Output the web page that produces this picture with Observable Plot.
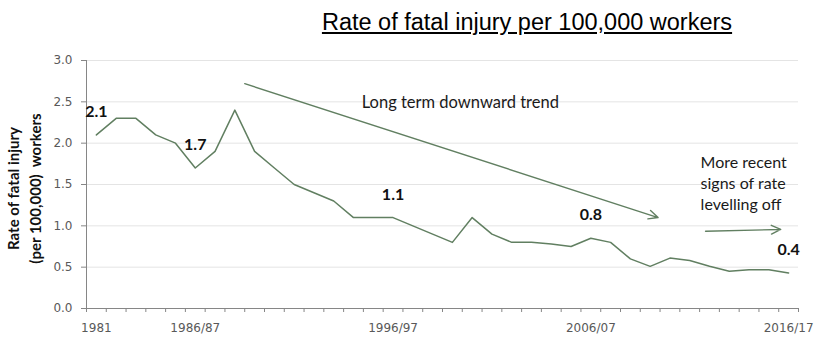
<!DOCTYPE html>
<html><head><meta charset="utf-8">
<script src="https://cdn.jsdelivr.net/npm/d3@7"></script>
<script src="https://cdn.jsdelivr.net/npm/@observablehq/plot@0.6"></script>
<style>
body{margin:0;background:#fff;}
#wrap{position:relative;width:818px;height:363px;overflow:hidden;background:#fff;}
#title{position:absolute;left:527px;top:9px;transform:translateX(-50%);font-family:"Liberation Sans",Arial,Helvetica,sans-serif;font-size:23.5px;text-decoration:underline;white-space:nowrap;color:#000;}
#chart{position:absolute;left:0;top:45px;}
</style></head><body>
<div id="wrap"><div id="title">Rate of fatal injury per 100,000 workers</div><div id="chart"></div></div>
<script>
const years = ["1981","1982","1983","1984","1985","1986/87","1987/88","1988/89","1989/90","1990/91",
  "1991/92","1992/93","1993/94","1994/95","1995/96","1996/97","1997/98","1998/99","1999/00","2000/01",
  "2001/02","2002/03","2003/04","2004/05","2005/06","2006/07","2007/08","2008/09","2009/10","2010/11",
  "2011/12","2012/13","2013/14","2014/15","2015/16","2016/17"];
const rates = [2.1,2.3,2.3,2.1,2.0,1.7,1.9,2.4,1.9,1.7,
  1.5,1.4,1.3,1.1,1.1,1.1,1.0,0.9,0.8,1.1,
  0.9,0.8,0.8,0.78,0.75,0.85,0.8,0.6,0.51,0.61,
  0.58,0.51,0.45,0.47,0.47,0.43];
const tickYears = ["1981","1986/87","1996/97","2006/07","2016/17"];
const labelYears = ["1981","1986/87","1996/97","2006/07","2016/17"];
const labelTexts = ["2.1","1.7","1.1","0.8","0.4"];
const yTicks = [0,0.5,1,1.5,2,2.5,3];
const arrowsData = [
  {x1:7.5, y1:2.72, x2:28.4, y2:1.10},
  {x1:30.8, y1:0.935, x2:34.6, y2:0.956}
];
const trendNote = [{x:18.4, y:2.49, text:"Long term downward trend"}];
const recentNote = [{x:30.55, y:1.524, text:"More recent\nsigns of rate\nlevelling off"}];
const yTitle = "Rate of fatal injury\n(per 100,000)  workers";

const data = years.map((year, i) => ({i, year, rate: rates[i]}));
const boundaries = years.map((_, k) => k - 0.5).concat([years.length - 0.5]);
const lineColor = "#617f61";
const axisColor = "#868686";

const chart = Plot.plot({
  width: 818, height: 318,
  marginLeft: 86, marginRight: 20, marginTop: 15, marginBottom: 55,
  x: {type: "linear", domain: [-0.5, years.length - 0.5], axis: null, label: null},
  y: {domain: [0, 3], axis: null, label: null},
  style: {fontFamily: "'DejaVu Sans', sans-serif", fontSize: "12px", color: "#595959", background: "white"},
  marks: [
    Plot.ruleY(yTicks.filter(d => d > 0), {stroke: "#e4e4e4", strokeWidth: 1}),
    Plot.axisY(yTicks, {tickFormat: d => d.toFixed(1), tickSize: 5, tickPadding: 9, stroke: axisColor, fill: "#595959", label: null}),
    Plot.axisX(boundaries, {tickSize: 4, tickFormat: () => "", stroke: axisColor, label: null}),
    Plot.axisX(tickYears.map(y => years.indexOf(y)), {tickSize: 0, tickPadding: 15, tickFormat: i => years[i], fill: "#595959", label: null}),
    Plot.ruleX([-0.5], {stroke: axisColor}),
    Plot.ruleY([0], {stroke: axisColor}),
    Plot.line(data, {x: "i", y: "rate", stroke: lineColor, strokeWidth: 1.5}),
    Plot.text(data.filter(d => labelYears.includes(d.year)), {
      x: "i", y: "rate", text: d => labelTexts[labelYears.indexOf(d.year)],
      dy: -23, fontWeight: "bold", fontSize: 16, fontFamily: "Lato", fill: "#111"}),
    Plot.arrow(arrowsData, {x1: "x1", y1: "y1", x2: "x2", y2: "y2", stroke: lineColor, strokeWidth: 1.4, headLength: 11, headAngle: 50, bend: 0}),
    Plot.text(trendNote, {x: "x", y: "y", text: "text", textAnchor: "middle", fontSize: 16.5, fontFamily: "Lato", fill: "#1a1a1a"}),
    Plot.text(recentNote, {x: "x", y: "y", text: "text", textAnchor: "start", fontSize: 16, fontFamily: "Lato", fill: "#1a1a1a", lineHeight: 1.3}),
    Plot.text([yTitle], {text: d => d, frameAnchor: "left", textAnchor: "middle", rotate: -90, dx: -63.5, dy: 4, fontWeight: "bold", fontSize: 15, fontFamily: "Lato", fill: "#111", lineHeight: 1.45})
  ]
});
document.getElementById("chart").appendChild(chart);
</script>
</body></html>
